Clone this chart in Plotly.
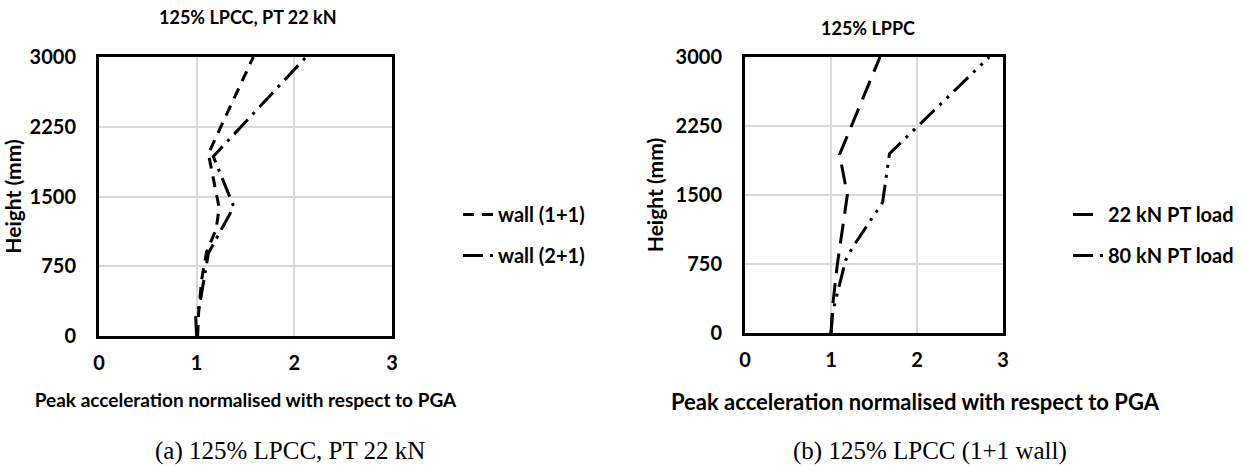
import plotly.graph_objects as go

# ---- data ----
left_title = "125% LPCC, PT 22 kN"
right_title = "125% LPPC"
x_title = "Peak acceleration normalised with respect to PGA"
y_title = "Height (mm)"

wall11_x = [1.01, 1.02, 1.05, 1.10, 1.20, 1.23, 1.12, 1.58]
wall11_y = [0, 250, 600, 900, 1150, 1380, 1960, 3000]

wall21_x = [1.00, 0.99, 1.03, 1.12, 1.38, 1.17, 2.12]
wall21_y = [0, 200, 330, 890, 1390, 1930, 3000]

pt22_x = [1.00, 1.02, 1.07, 1.13, 1.19, 1.10, 1.57]
pt22_y = [0, 300, 720, 1100, 1500, 1940, 3000]

pt80_x = [1.00, 1.02, 1.06, 1.17, 1.25, 1.60, 1.68, 2.02, 2.84]
pt80_y = [0, 230, 380, 790, 930, 1420, 1950, 2260, 3000]

x_ticks = [0, 1, 2, 3]
y_ticks = [0, 750, 1500, 2250, 3000]

FONT = "Lato"
W, H = 1244, 470


def px(v):
    return v / W


def py(v):
    return 1 - v / H


fig = go.Figure()
lw = 3
fig.add_trace(go.Scatter(x=wall11_x, y=wall11_y, mode="lines", name="wall (1+1)",
                         line=dict(color="black", width=lw, dash="11px,8px"),
                         xaxis="x", yaxis="y", legend="legend", legendgroup="a"))
fig.add_trace(go.Scatter(x=wall21_x, y=wall21_y, mode="lines", name="wall (2+1)",
                         line=dict(color="black", width=lw, dash="20px,7px,3px,7px"),
                         xaxis="x", yaxis="y", legend="legend", legendgroup="b"))
fig.add_trace(go.Scatter(x=pt22_x, y=pt22_y, mode="lines", name="22 kN PT load",
                         line=dict(color="black", width=lw, dash="20px,10px"),
                         xaxis="x2", yaxis="y2", legend="legend2", legendgroup="c"))
fig.add_trace(go.Scatter(x=pt80_x, y=pt80_y, mode="lines", name="80 kN PT load",
                         line=dict(color="black", width=lw, dash="20px,7px,3px,7px,3px,7px"),
                         xaxis="x2", yaxis="y2", legend="legend2", legendgroup="d"))

tickfont = dict(family=FONT, size=20, color="black", weight="bold")
xtitlefont = dict(family=FONT, size=19, color="black", weight="bold")
ytitlefont = dict(family=FONT, size=21, color="black", weight="bold")


def xax(dom, anchor, title):
    return dict(domain=dom, anchor=anchor, range=[0, 3], tickvals=x_ticks,
                showline=True, linecolor="black", linewidth=3, mirror=True,
                showgrid=True, gridcolor="#d9d9d9", gridwidth=1.5, zeroline=False,
                ticks="", tickfont=tickfont, ticklabelstandoff=7, automargin=False,
                title=dict(text=title, font=xtitlefont, standoff=21))


def yax(dom, anchor):
    return dict(domain=dom, anchor=anchor, range=[0, 3000], tickvals=y_ticks,
                showline=True, linecolor="black", linewidth=3, mirror=True,
                showgrid=True, gridcolor="#d9d9d9", gridwidth=1.5, zeroline=False,
                ticks="", tickfont=tickfont, ticklabelstandoff=16, automargin=False,
                title=dict(text=y_title, font=ytitlefont, standoff=7))


legfont = dict(family=FONT, size=20, color="black", weight="bold")

fig.update_layout(
    width=W, height=H,
    margin=dict(l=0, r=0, t=0, b=0),
    paper_bgcolor="white", plot_bgcolor="white",
    xaxis=xax([px(99), px(392)], "y", x_title),
    yaxis=yax([py(336), py(57)], "x"),
    xaxis2=xax([px(745), px(1003)], "y2", ""),
    yaxis2=yax([py(333), py(57)], "x2"),
    legend=dict(x=px(458), y=py(235), xanchor="left", yanchor="middle", font=legfont,
                traceorder="grouped", tracegroupgap=12, bgcolor="rgba(0,0,0,0)"),
    legend2=dict(x=px(1068), y=py(235), xanchor="left", yanchor="middle", font=legfont,
                 traceorder="grouped", tracegroupgap=12, bgcolor="rgba(0,0,0,0)"),
    annotations=[
        dict(text=left_title, x=px(248), y=py(17), xref="paper", yref="paper",
             xanchor="center", yanchor="middle", showarrow=False,
             font=dict(family=FONT, size=18, color="black", weight="bold")),
        dict(text=right_title, x=px(868), y=py(28), xref="paper", yref="paper",
             xanchor="center", yanchor="middle", showarrow=False,
             font=dict(family=FONT, size=18, color="black", weight="bold")),
        dict(text=x_title, x=px(915), y=py(401), xref="paper", yref="paper",
             xanchor="center", yanchor="middle", showarrow=False,
             font=dict(family=FONT, size=22, color="black", weight="bold")),
        dict(text="(a) 125% LPCC, PT 22 kN", x=px(290), y=py(451), xref="paper", yref="paper",
             xanchor="center", yanchor="middle", showarrow=False,
             font=dict(family="Liberation Serif", size=25, color="black")),
        dict(text="(b) 125% LPCC (1+1 wall)", x=px(930), y=py(451), xref="paper", yref="paper",
             xanchor="center", yanchor="middle", showarrow=False,
             font=dict(family="Liberation Serif", size=25, color="black")),
    ],
)

fig.write_html("out.html", config={"displayModeBar": False},
               post_script="document.body.style.margin='0';")
